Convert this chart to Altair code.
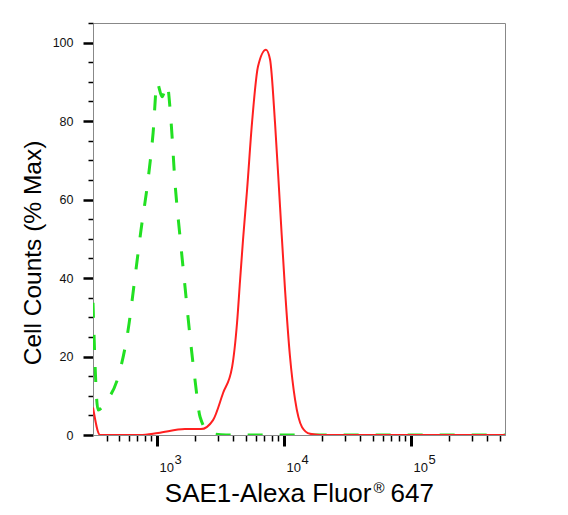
import altair as alt
import pandas as pd

# Control (isotype) histogram - green dashed
ctrl_x = [313, 343, 390, 512, 592, 671, 748, 849, 931, 1000, 1095, 1199, 1288, 1387,
          1517, 1660, 1820, 1991, 2183, 2612, 3500, 10000, 50000, 550000]
ctrl_y = [33.7, 6.4, 8.2, 16.6, 26.8, 40.3, 52.3, 65, 77, 89.8, 86.2, 89.3, 80, 64,
          50.5, 37.8, 25, 14, 4.6, 0.5, 0, 0, 0, 0]

# SAE1 stained histogram - red solid
red_x = [313, 356, 735, 1019, 1660, 2218, 2761, 3311, 3899, 4266, 4508, 4753, 5117,
         5598, 6237, 7211, 7762, 8492, 9311, 10186, 11143, 12218, 13868, 16032, 19187, 550000]
red_y = [7, 0, 0, 0.5, 1.5, 1.5, 3.8, 10.7, 17.3, 28.6, 39.5, 49.7, 62.5,
         79.6, 93.9, 98.2, 95.7, 79.6, 58, 37, 20, 9, 2, 0.3, 0, 0]

x_major = [1000, 10000, 100000]
x_exponents = ["3", "4", "5"]
x_minor = [400, 500, 600, 700, 800, 900,
           2000, 3000, 4000, 5000, 6000, 7000, 8000, 9000,
           20000, 30000, 40000, 50000, 60000, 70000, 80000, 90000,
           200000, 300000, 400000, 500000]
y_major = [0, 20, 40, 60, 80, 100]
y_minor = [5, 10, 15, 25, 30, 35, 45, 50, 55, 65, 70, 75, 85, 90, 95, 105]

ctrl = pd.DataFrame({"x": ctrl_x, "y": ctrl_y})
red = pd.DataFrame({"x": red_x, "y": red_y})

FONT = "Liberation Sans"
xscale = alt.Scale(type="log", domain=[313, 550000], nice=False)
yscale = alt.Scale(domain=[0, 105], nice=False)

exp_expr = ("datum.value == 1000 ? '" + x_exponents[0] + "' : datum.value == 10000 ? '"
            + x_exponents[1] + "' : '" + x_exponents[2] + "'")

green_layer = alt.Chart(ctrl).mark_line(
    color="#22e022", strokeWidth=3, strokeDash=[15, 17], clip=True,
    interpolate="monotone"
).encode(
    x=alt.X("x:Q", scale=xscale,
            axis=alt.Axis(orient="bottom", values=x_major, tickSize=11, tickWidth=3,
                          tickColor="#000", domainColor="#888", grid=False,
                          labelExpr="'10'", labelAlign="left", labelOffset=2,
                          labelBaseline="alphabetic",
                          labelFont=FONT, labelFontSize=13, labelColor="#111",
                          labelPadding=25,
                          title="SAE1-Alexa Fluor", titleFont=FONT,
                          titleFontSize=26, titleFontWeight="normal", titleColor="#000",
                          titleX=278, titleY=66, titleAlign="right",
                          titleBaseline="alphabetic", titleLimit=1000)),
    y=alt.Y("y:Q", scale=yscale,
            axis=alt.Axis(orient="left", values=y_major, tickSize=10, tickWidth=2.5,
                          tickColor="#000", domainColor="#888", grid=False,
                          labelFont=FONT, labelFontSize=12.5, labelColor="#111",
                          labelPadding=10,
                          title="Cell Counts (% Max)", titleFont=FONT,
                          titleFontSize=24.5, titleFontWeight="normal", titleColor="#000",
                          titleX=-60, titleY=229.5, titleAlign="center",
                          titleBaseline="middle", titleAngle=270, titleLimit=1000)),
)

red_layer = alt.Chart(red).mark_line(
    color="#ff2020", strokeWidth=2, clip=True, interpolate="monotone"
).encode(
    x=alt.X("x:Q", scale=xscale,
            axis=alt.Axis(orient="bottom", values=x_minor, tickSize=6, tickWidth=1.5,
                          tickColor="#000", domainColor="#888", grid=False,
                          labels=False,
                          title="®", titleFont=FONT, titleFontSize=15,
                          titleFontWeight="normal", titleColor="#000",
                          titleX=280, titleY=57, titleAlign="left",
                          titleBaseline="alphabetic")),
    y=alt.Y("y:Q", scale=yscale,
            axis=alt.Axis(orient="left", values=y_minor, tickSize=5, tickWidth=1.5,
                          tickColor="#000", domainColor="#888", grid=False,
                          labels=False, title=None)),
)

# invisible layer carrying the superscript exponents and the end of the x title
exp_layer = alt.Chart(red).mark_line(opacity=0).encode(
    x=alt.X("x:Q", scale=xscale,
            axis=alt.Axis(orient="bottom", values=x_major, ticks=False, tickSize=0,
                          domain=False, grid=False,
                          labelExpr=exp_expr, labelAlign="left", labelOffset=17,
                          labelBaseline="alphabetic",
                          labelFont=FONT, labelFontSize=13, labelColor="#111",
                          labelPadding=28,
                          title="647", titleFont=FONT,
                          titleFontSize=26, titleFontWeight="normal", titleColor="#000",
                          titleX=297, titleY=66, titleAlign="left",
                          titleBaseline="alphabetic", titleLimit=1000)),
    y=alt.Y("y:Q", scale=yscale, axis=None),
)

chart = alt.layer(green_layer, red_layer, exp_layer).resolve_axis(
    x="independent", y="independent"
).properties(
    width=412, height=412,
    autosize=alt.AutoSizeParams(type="none"),
    padding={"left": 85, "top": 15, "right": 55, "bottom": 72},
    background="white",
).configure_view(stroke="#888", strokeWidth=1)

chart.save("out.html", embed_options={"renderer": "svg", "actions": False})
